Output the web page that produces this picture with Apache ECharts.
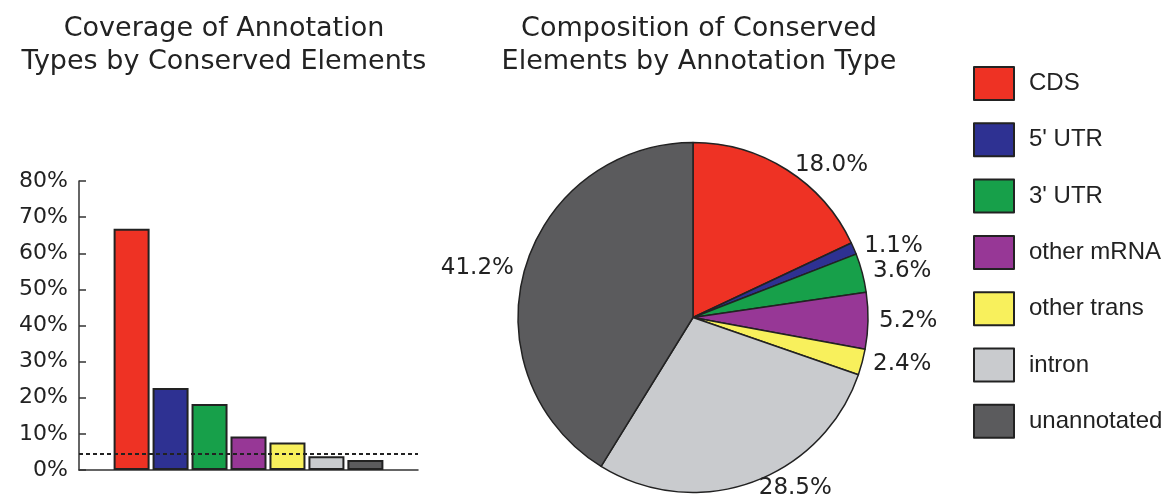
<!DOCTYPE html>
<html>
<head>
<meta charset="utf-8">
<script src="https://cdn.jsdelivr.net/npm/echarts@6/dist/echarts.min.js"></script>
<style>
    html, body { margin: 0; padding: 0; background: #fff; }
    #chart { width: 1169px; height: 501px; }
</style>
</head>
<body>
<div id="chart"></div>
<script>
// annotation types, same order in both panels
const categories = ['CDS', "5' UTR", "3' UTR", 'other mRNA', 'other trans', 'intron', 'unannotated'];
const colors = ['#ee3224', '#2e3192', '#17a04a', '#973796', '#f8f05c', '#c9cbce', '#5b5b5d'];
// left panel: coverage (%) of each type by conserved elements
const coverage = [66.8, 22.7, 18.3, 9.3, 7.6, 3.8, 2.8];
const genomeFraction = 4.6; // dotted reference line
// right panel: composition (%) of conserved elements
const composition = [18.0, 1.1, 3.6, 5.2, 2.4, 28.5, 41.2];

const chart = echarts.init(document.getElementById('chart'));

const border = {borderColor: '#222', borderWidth: 2};
const titleText = {
    fontFamily: 'DejaVu Sans',
    fontSize: 27,
    fontWeight: 'normal',
    color: '#222',
    lineHeight: 33
};

chart.setOption({
    animation: false,
    title: [
        {text: 'Coverage of Annotation\nTypes by Conserved Elements', left: 219, top: 7, textAlign: 'center', textStyle: titleText},
        {text: 'Composition of Conserved\nElements by Annotation Type', left: 694, top: 7, textAlign: 'center', textStyle: titleText}
    ],
    legend: {
        data: categories,
        orient: 'vertical',
        left: 968,
        top: 61,
        itemWidth: 40,
        itemHeight: 33,
        itemGap: 21.3,
        icon: 'rect',
        itemStyle: border,
        textStyle: {fontFamily: 'Liberation Sans', fontSize: 24, color: '#222', padding: [0, 0, 0, 10]},
        selectedMode: false
    },
    grid: {left: 79, top: 181, width: 339, height: 289},
    xAxis: {
        type: 'value',
        min: -1.35,
        max: 7.35,
        axisLine: {show: true, lineStyle: {color: '#333', width: 1.5}},
        axisTick: {show: false},
        axisLabel: {show: false},
        splitLine: {show: false}
    },
    yAxis: {
        type: 'value',
        min: 0,
        max: 80,
        interval: 10,
        axisLine: {show: true, onZero: false, lineStyle: {color: '#333', width: 1.5}},
        axisTick: {show: true, inside: true, length: 7, lineStyle: {color: '#333', width: 1.5}},
        axisLabel: {
            formatter: '{value}%',
            margin: 11,
            fontFamily: 'DejaVu Sans',
            fontSize: 22,
            color: '#222'
        },
        splitLine: {show: false}
    },
    series: [
        {
            type: 'bar',
            name: 'coverage',
            barWidth: 36,
            data: coverage.map((v, i) => ({
                value: [i, v],
                itemStyle: {color: colors[i], ...border}
            })),
            markLine: {
                silent: true,
                symbol: 'none',
                label: {show: false},
                lineStyle: {color: '#222', type: [4, 3], width: 2},
                data: [{yAxis: genomeFraction}]
            },
            z: 2
        },
        {
            type: 'pie',
            name: 'composition',
            center: [693, 317.5],
            radius: 175,
            startAngle: 90,
            clockwise: true,
            avoidLabelOverlap: false,
            data: composition.map((v, i) => ({
                name: categories[i],
                value: v,
                itemStyle: {color: colors[i], borderColor: '#222', borderWidth: 1.5}
            })),
            label: {
                show: true,
                position: 'outside',
                formatter: p => p.value.toFixed(1) + '%',
                fontFamily: 'DejaVu Sans',
                fontSize: 23,
                color: '#222'
            },
            labelLine: {show: false, length: 6, length2: 0},
            emphasis: {disabled: true}
        }
    ]
});
</script>
</body>
</html>
